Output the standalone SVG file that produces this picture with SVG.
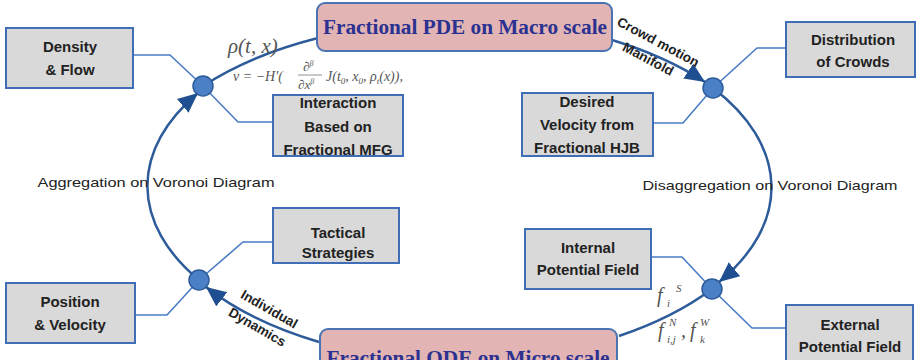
<svg xmlns="http://www.w3.org/2000/svg" width="916" height="360" viewBox="0 0 916 360">
<style>
.box{fill:#D9D9D9;stroke:#3F6EB6;stroke-width:2}
.pink{fill:#E2B4B4;stroke:#4A73B3;stroke-width:2}
.bt{font-family:"Liberation Sans",Arial,sans-serif;font-weight:bold;font-size:15px;fill:#222;text-anchor:middle}
.title{font-family:"Liberation Serif","Times New Roman",serif;font-weight:bold;font-size:20px;fill:#2B3190;text-anchor:middle}
.main{fill:none;stroke:#2E5C9B;stroke-width:2.5}
.thin{fill:none;stroke:#4A7CC6;stroke-width:1.6}
.node{fill:#4B80C6;stroke:#2E5C9B;stroke-width:1.5}
.lbl{font-family:"Liberation Sans",Arial,sans-serif;font-size:13px;fill:#222;text-anchor:middle}
.rl{font-family:"Liberation Sans",Arial,sans-serif;font-size:13.5px;font-weight:bold;fill:#222;text-anchor:middle}
.math{font-family:"Liberation Serif","Times New Roman",serif;font-style:italic;fill:#555}
</style>
<defs>
<marker id="arr" markerUnits="userSpaceOnUse" markerWidth="24" markerHeight="20" refX="20" refY="9" orient="auto">
<path d="M0,0 L20,9 L0,18 Z" fill="#1F4F91"/>
</marker>
</defs>
<rect width="916" height="360" fill="#fff"/>
<g id="connectors">
<path class="main" d="M199,280 A310 170 0 0 1 198,93" marker-end="url(#arr)"/>
<path class="main" d="M713,88 A310 170 0 0 1 719,282" marker-end="url(#arr)"/>
<path class="main" d="M203,86 A330 180 0 0 1 318,38"/>
<path class="main" d="M612,40 A330 180 0 0 1 705,82" marker-end="url(#arr)"/>
<path class="main" d="M712,289 A330 180 0 0 1 619,336"/>
<path class="main" d="M319,342 A330 180 0 0 1 206,287" marker-end="url(#arr)"/>
<polyline class="thin" points="133,55 170,55 203,86 238,122 273,122"/>
<polyline class="thin" points="786,48 757,48 713,88 683,123 653,123"/>
<polyline class="thin" points="273,242 243,242 199,280 167,315 135,315"/>
<polyline class="thin" points="651,257 682,257 712,289 752,328 786,328"/>
</g>
<g id="macro">
<rect class="pink" x="317" y="3" width="295" height="48" rx="8"/>
<text class="title" x="465" y="34" textLength="284" lengthAdjust="spacingAndGlyphs">Fractional PDE on Macro scale</text>
</g>
<g id="micro">
<rect class="pink" x="320" y="329" width="297" height="50" rx="8"/>
<text class="title" x="468" y="365" textLength="283" lengthAdjust="spacingAndGlyphs">Fractional ODE on Micro scale</text>
</g>
<g id="density">
<rect class="box" x="6" y="28" width="127" height="60"/>
<text class="bt" x="70" y="52">Density</text>
<text class="bt" x="70" y="75">&amp; Flow</text>
</g>
<g id="interaction">
<rect class="box" x="273" y="95" width="130" height="61"/>
<text class="bt" x="338" y="108">Interaction</text>
<text class="bt" x="338" y="132">Based on</text>
<text class="bt" x="338" y="155">Fractional MFG</text>
</g>
<g id="desired">
<rect class="box" x="522" y="93" width="131" height="63"/>
<text class="bt" x="587" y="107">Desired</text>
<text class="bt" x="587" y="130">Velocity from</text>
<text class="bt" x="587" y="153">Fractional HJB</text>
</g>
<g id="distribution">
<rect class="box" x="786" y="22" width="129" height="55"/>
<text class="bt" x="853" y="45">Distribution</text>
<text class="bt" x="853" y="67">of Crowds</text>
</g>
<g id="tactical">
<rect class="box" x="273" y="208" width="126" height="55"/>
<text class="bt" x="338" y="238">Tactical</text>
<text class="bt" x="338" y="258">Strategies</text>
</g>
<g id="position">
<rect class="box" x="6" y="283" width="129" height="60"/>
<text class="bt" x="70" y="307">Position</text>
<text class="bt" x="70" y="330">&amp; Velocity</text>
</g>
<g id="internal">
<rect class="box" x="525" y="229" width="126" height="60"/>
<text class="bt" x="588" y="253">Internal</text>
<text class="bt" x="588" y="275">Potential Field</text>
</g>
<g id="external">
<rect class="box" x="786" y="305" width="127" height="70"/>
<text class="bt" x="850" y="330">External</text>
<text class="bt" x="850" y="352">Potential Field</text>
</g>
<g id="nodes">
<circle class="node" cx="203" cy="86" r="10"/>
<circle class="node" cx="713" cy="88" r="10"/>
<circle class="node" cx="199" cy="280" r="10"/>
<circle class="node" cx="712" cy="289" r="10"/>
</g>
<g id="labels">
<text class="lbl" x="156" y="187" textLength="237" lengthAdjust="spacingAndGlyphs">Aggregation on Voronoi  Diagram</text>
<text class="lbl" x="770" y="190" textLength="255" lengthAdjust="spacingAndGlyphs">Disaggregation on Voronoi  Diagram</text>
<text class="rl" transform="translate(656,46) rotate(28)">Crowd motion</text>
<text class="rl" transform="translate(646,63) rotate(28)">Manifold</text>
<text class="rl" transform="translate(267,313) rotate(30)">Individual</text>
<text class="rl" transform="translate(255,331) rotate(30)">Dynamics</text>
<text class="math" x="228" y="53" font-size="21" fill="#333">ρ(t, x)</text>
<text class="math" x="233" y="81" font-size="14">v = −H′(</text>
<text class="math" x="303" y="71" font-size="13">∂<tspan dy="-5" font-size="8">β</tspan></text>
<line x1="298" y1="75" x2="322" y2="75" stroke="#777" stroke-width="0.8"/>
<text class="math" x="298" y="89" font-size="13">∂x<tspan dy="-5" font-size="8">β</tspan></text>
<text class="math" x="326" y="81" font-size="14">J(t<tspan dy="3" font-size="9">0</tspan><tspan dy="-3">, x</tspan><tspan dy="3" font-size="9">0</tspan><tspan dy="-3">, ρ</tspan><tspan dy="3" font-size="9">t</tspan><tspan dy="-3">(x)),</tspan></text>
<text class="math" x="657" y="302" font-size="20">f</text>
<text class="math" x="667" y="307" font-size="11">i</text>
<text class="math" x="676" y="292" font-size="11" font-style="normal">S</text>
<text class="math" x="658" y="337" font-size="20">f</text>
<text class="math" x="667" y="343" font-size="11">i,j</text>
<text class="math" x="669" y="326" font-size="11">N</text>
<text class="math" x="681" y="337" font-size="20">,</text>
<text class="math" x="690" y="337" font-size="20">f</text>
<text class="math" x="700" y="343" font-size="11">k</text>
<text class="math" x="700" y="326" font-size="11">W</text>
</g>
</svg>
